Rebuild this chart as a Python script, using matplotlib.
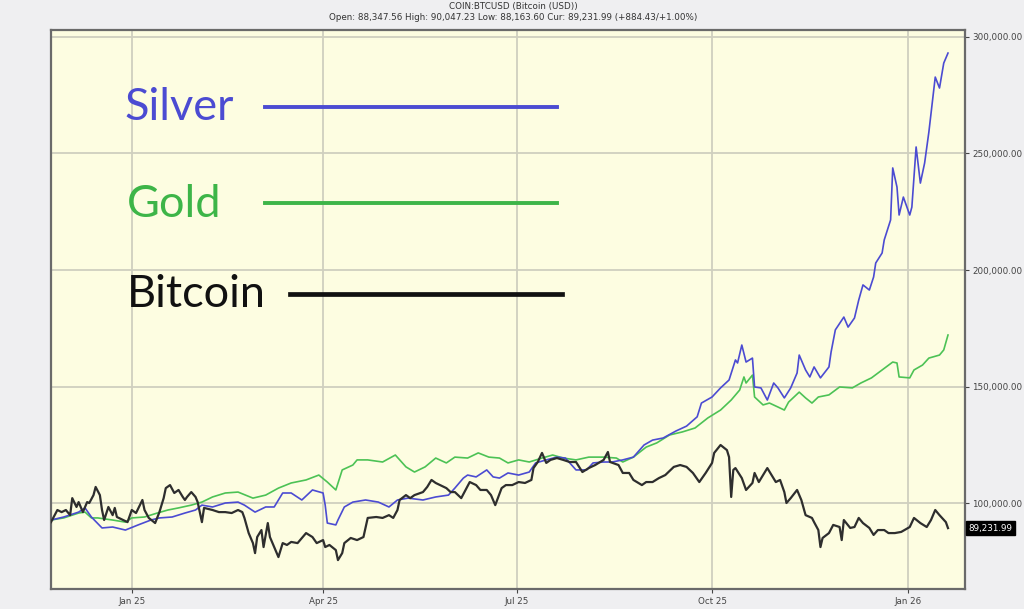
import matplotlib
matplotlib.use("Agg")
import matplotlib.pyplot as plt
import matplotlib.transforms as mtransforms
from matplotlib.ticker import FuncFormatter
import pandas as pd

# ---------------- data (USD on the BTC scale) ----------------
btc_dates = [
    "2024-11-24", "2024-11-27", "2024-11-29", "2024-12-01", "2024-12-03", "2024-12-04", "2024-12-06",
    "2024-12-07", "2024-12-09", "2024-12-11", "2024-12-12", "2024-12-14", "2024-12-15", "2024-12-17",
    "2024-12-18", "2024-12-19", "2024-12-21", "2024-12-23", "2024-12-24", "2024-12-25", "2024-12-28",
    "2024-12-30", "2025-01-01", "2025-01-03", "2025-01-06", "2025-01-07", "2025-01-09", "2025-01-12",
    "2025-01-14", "2025-01-16", "2025-01-17", "2025-01-19", "2025-01-21", "2025-01-23", "2025-01-25",
    "2025-01-26", "2025-01-27", "2025-01-29", "2025-01-31", "2025-02-01", "2025-02-03", "2025-02-04",
    "2025-02-08", "2025-02-11", "2025-02-14", "2025-02-17", "2025-02-20", "2025-02-22", "2025-02-23",
    "2025-02-25", "2025-02-27", "2025-02-28", "2025-03-01", "2025-03-03", "2025-03-04", "2025-03-06",
    "2025-03-07", "2025-03-09", "2025-03-11", "2025-03-13", "2025-03-15", "2025-03-17", "2025-03-20",
    "2025-03-24", "2025-03-27", "2025-03-29", "2025-04-01", "2025-04-02", "2025-04-04", "2025-04-07",
    "2025-04-08", "2025-04-10", "2025-04-11", "2025-04-14", "2025-04-17", "2025-04-20", "2025-04-22",
    "2025-04-26", "2025-04-29", "2025-05-02", "2025-05-04", "2025-05-06", "2025-05-07", "2025-05-10",
    "2025-05-12", "2025-05-14", "2025-05-18", "2025-05-20", "2025-05-22", "2025-05-24", "2025-05-26",
    "2025-05-29", "2025-05-31", "2025-06-02", "2025-06-05", "2025-06-07", "2025-06-09", "2025-06-12",
    "2025-06-14", "2025-06-17", "2025-06-19", "2025-06-21", "2025-06-24", "2025-06-26", "2025-06-29",
    "2025-07-02", "2025-07-05", "2025-07-08", "2025-07-09", "2025-07-11", "2025-07-13", "2025-07-15",
    "2025-07-17", "2025-07-20", "2025-07-23", "2025-07-26", "2025-07-29", "2025-08-01", "2025-08-04",
    "2025-08-07", "2025-08-11", "2025-08-13", "2025-08-14", "2025-08-18", "2025-08-20", "2025-08-23",
    "2025-08-25", "2025-08-29", "2025-08-31", "2025-09-03", "2025-09-06", "2025-09-09", "2025-09-13",
    "2025-09-16", "2025-09-19", "2025-09-22", "2025-09-25", "2025-09-28", "2025-10-01", "2025-10-02",
    "2025-10-05", "2025-10-08", "2025-10-09", "2025-10-10", "2025-10-11", "2025-10-12", "2025-10-15",
    "2025-10-17", "2025-10-20", "2025-10-21", "2025-10-23", "2025-10-27", "2025-10-29", "2025-10-31",
    "2025-11-02", "2025-11-04", "2025-11-05", "2025-11-07", "2025-11-10", "2025-11-12", "2025-11-14",
    "2025-11-17", "2025-11-18", "2025-11-20", "2025-11-21", "2025-11-22", "2025-11-25", "2025-11-27",
    "2025-11-30", "2025-12-01", "2025-12-02", "2025-12-05", "2025-12-07", "2025-12-09", "2025-12-11",
    "2025-12-14", "2025-12-16", "2025-12-18", "2025-12-21", "2025-12-23", "2025-12-26", "2025-12-29",
    "2026-01-02", "2026-01-04", "2026-01-07", "2026-01-10", "2026-01-12", "2026-01-14", "2026-01-16",
    "2026-01-19", "2026-01-20",
]
btc_values = [
    91800, 97000, 96100, 97000, 94800, 102100, 98300,
    100400, 96100, 100400, 100000, 103400, 106900, 103400,
    97000, 92700, 98300, 94800, 97900, 94000, 92700,
    91800, 97000, 95700, 101300, 97000, 93600, 91400,
    96100, 102100, 106400, 107700, 104300, 105600, 102600,
    101300, 102600, 104700, 102600, 100400, 91800, 97900,
    97000, 96100, 96100, 95700, 97000, 96100, 93600,
    87100, 82800, 78500, 85400, 88400, 81100, 91400,
    85400, 81100, 76800, 82800, 82000, 83300, 82800,
    87100, 85400, 82800, 84100, 81100, 82000, 79800,
    75500, 78500, 82800, 85000, 84100, 85400, 93600,
    94000, 93600, 94800, 93600, 97000, 101300, 103400,
    102100, 103400, 104700, 106900, 109900, 108600, 107700,
    106400, 104700, 104700, 102100, 105600, 109000, 107700,
    105600, 105600, 103400, 99100, 106400, 107700, 107700,
    109000, 108600, 109900, 115000, 117600, 121500, 117200,
    118500, 119300, 118500, 117600, 117600, 113300, 115000,
    116300, 118500, 121900, 117600, 116300, 112900, 112900,
    109900, 107700, 109000, 109000, 110700, 112000, 115500,
    116300, 115500, 112900, 109000, 112900, 117200, 121500,
    124900, 122700, 119700, 102600, 114200, 115000, 110700,
    105600, 108600, 112900, 109000, 115000, 112000, 109000,
    109900, 104700, 100000, 102100, 105600, 101300, 94800,
    93600, 91800, 88400, 81100, 85000, 87100, 90600,
    89700, 84100, 92700, 89300, 89700, 93600, 91400,
    89300, 86300, 88400, 88400, 87100, 87100, 87600,
    89700, 93600, 91400, 89700, 92700, 97000, 94800,
    91800, 89232,
]

silver_dates = [
    "2024-11-24", "2024-11-30", "2024-12-07", "2024-12-10", "2024-12-13", "2024-12-18", "2024-12-23",
    "2024-12-29", "2025-01-04", "2025-01-10", "2025-01-14", "2025-01-20", "2025-01-26", "2025-01-31",
    "2025-02-03", "2025-02-08", "2025-02-14", "2025-02-20", "2025-02-23", "2025-02-28", "2025-03-05",
    "2025-03-09", "2025-03-13", "2025-03-17", "2025-03-22", "2025-03-27", "2025-04-01", "2025-04-02",
    "2025-04-03", "2025-04-07", "2025-04-08", "2025-04-11", "2025-04-15", "2025-04-21", "2025-04-27",
    "2025-05-02", "2025-05-06", "2025-05-11", "2025-05-18", "2025-05-24", "2025-05-30", "2025-06-02",
    "2025-06-06", "2025-06-08", "2025-06-12", "2025-06-17", "2025-06-20", "2025-06-23", "2025-06-27",
    "2025-07-02", "2025-07-07", "2025-07-10", "2025-07-15", "2025-07-20", "2025-07-24", "2025-07-29",
    "2025-08-03", "2025-08-06", "2025-08-11", "2025-08-15", "2025-08-20", "2025-08-25", "2025-08-30",
    "2025-09-03", "2025-09-08", "2025-09-14", "2025-09-19", "2025-09-24", "2025-09-26", "2025-10-01",
    "2025-10-05", "2025-10-09", "2025-10-12", "2025-10-13", "2025-10-15", "2025-10-17", "2025-10-20",
    "2025-10-21", "2025-10-24", "2025-10-27", "2025-10-30", "2025-11-01", "2025-11-04", "2025-11-07",
    "2025-11-10", "2025-11-11", "2025-11-14", "2025-11-16", "2025-11-18", "2025-11-21", "2025-11-25",
    "2025-11-26", "2025-11-28", "2025-12-02", "2025-12-04", "2025-12-07", "2025-12-09", "2025-12-11",
    "2025-12-14", "2025-12-16", "2025-12-17", "2025-12-20", "2025-12-21", "2025-12-24", "2025-12-25",
    "2025-12-27", "2025-12-28", "2025-12-30", "2026-01-02", "2026-01-03", "2026-01-05", "2026-01-07",
    "2026-01-09", "2026-01-11", "2026-01-14", "2026-01-16", "2026-01-18", "2026-01-20",
]
silver_values = [
    92700, 94000, 96100, 97900, 94000, 89300, 89700,
    88400, 90600, 92700, 93600, 94000, 95700, 97000,
    99100, 98300, 100000, 100400, 99100, 96100, 98300,
    98300, 104300, 104300, 101300, 105600, 104300, 99100,
    91400, 90600, 92700, 98300, 100400, 101300, 100400,
    98300, 101300, 102100, 101300, 102600, 103400, 106400,
    110700, 112000, 111200, 114200, 111200, 110700, 112900,
    112000, 113300, 117200, 118500, 119700, 119300, 114200,
    114200, 117200, 117600, 117600, 118500, 119700, 124900,
    127000, 127900, 130900, 133000, 137000, 142900, 145500,
    149400, 152800, 161400, 160100, 167800, 160500, 162200,
    149800, 149400, 144200, 151500, 149400, 145100, 149400,
    155800, 163500, 157100, 154100, 158400, 153700, 158400,
    164800, 174300, 179800, 175500, 179400, 187100, 193600,
    191400, 197000, 203000, 207300, 212900, 221500, 243800,
    235600, 223600, 231300, 223600, 227000, 252800, 237300,
    245900, 259200, 282800, 278100, 288800, 293100,
]

gold_dates = [
    "2024-11-24", "2024-11-30", "2024-12-07", "2024-12-10", "2024-12-13", "2024-12-16", "2024-12-23",
    "2024-12-29", "2025-01-01", "2025-01-07", "2025-01-13", "2025-01-18", "2025-01-23", "2025-01-29",
    "2025-02-03", "2025-02-08", "2025-02-14", "2025-02-20", "2025-02-27", "2025-03-05", "2025-03-11",
    "2025-03-17", "2025-03-24", "2025-03-30", "2025-04-03", "2025-04-07", "2025-04-10", "2025-04-15",
    "2025-04-17", "2025-04-22", "2025-04-29", "2025-05-05", "2025-05-10", "2025-05-14", "2025-05-19",
    "2025-05-24", "2025-05-29", "2025-06-02", "2025-06-08", "2025-06-13", "2025-06-18", "2025-06-23",
    "2025-06-27", "2025-07-02", "2025-07-07", "2025-07-13", "2025-07-18", "2025-07-23", "2025-07-29",
    "2025-08-04", "2025-08-11", "2025-08-17", "2025-08-20", "2025-08-25", "2025-08-31", "2025-09-05",
    "2025-09-11", "2025-09-17", "2025-09-23", "2025-09-29", "2025-10-05", "2025-10-10", "2025-10-14",
    "2025-10-16", "2025-10-17", "2025-10-20", "2025-10-21", "2025-10-25", "2025-10-28", "2025-11-01",
    "2025-11-04", "2025-11-06", "2025-11-11", "2025-11-14", "2025-11-17", "2025-11-20", "2025-11-25",
    "2025-11-30", "2025-12-06", "2025-12-10", "2025-12-15", "2025-12-20", "2025-12-25", "2025-12-27",
    "2025-12-28", "2026-01-02", "2026-01-04", "2026-01-08", "2026-01-11", "2026-01-16", "2026-01-18",
    "2026-01-20",
]
gold_values = [
    92700, 93600, 95700, 96100, 93600, 93600, 92700,
    91800, 93600, 94000, 95700, 97000, 97900, 99100,
    100400, 102600, 104300, 104700, 102100, 103400, 106400,
    108600, 109900, 112000, 109000, 105600, 114200, 116300,
    118500, 118500, 117600, 120600, 115500, 113300, 115500,
    119300, 117200, 119700, 119300, 121500, 119700, 119300,
    117200, 118500, 117600, 119300, 120600, 119300, 118500,
    119700, 119700, 119300, 117600, 119700, 124000, 125800,
    129200, 130500, 132200, 136500, 139900, 144200, 148500,
    154100, 151500, 154900, 145500, 142100, 142900, 141200,
    139900, 143300, 147600, 145100, 142900, 145500, 146400,
    149800, 149400, 151500, 153700, 157100, 160500, 160100,
    154100, 153700, 157100, 159200, 162200, 163500, 165700,
    172100,
]

y_ticks = [100000, 150000, 200000, 250000, 300000]
x_tick_dates = ["2025-01-01", "2025-04-01", "2025-07-01", "2025-10-01", "2026-01-01"]
x_tick_labels = ["Jan 25", "Apr 25", "Jul 25", "Oct 25", "Jan 26"]
legend_names = ["Silver", "Gold", "Bitcoin"]
title_line1 = "COIN:BTCUSD (Bitcoin (USD))"
title_line2 = "Open: 88,347.56 High: 90,047.23 Low: 88,163.60 Cur: 89,231.99 (+884.43/+1.00%)"
current_price = 89231.99

# ---------------- figure ----------------
W, H = 1024, 609
fig = plt.figure(figsize=(W / 100, H / 100), dpi=100, facecolor="#efeff1")
ax = fig.add_axes([51 / W, 1 - 589 / H, (965 - 51) / W, (589 - 30) / H])
ax.set_facecolor("#fdfde1")

c_silver = "#4b4bd2"
c_gold = "#4cc255"
c_btc = "#2e2e2e"

ax.plot(pd.to_datetime(gold_dates), gold_values, color=c_gold, lw=1.2, zorder=3)
ax.plot(pd.to_datetime(silver_dates), silver_values, color=c_silver, lw=1.2, zorder=4)
ax.plot(pd.to_datetime(btc_dates), btc_values, color=c_btc, lw=1.6, zorder=5)

ax.set_xlim(pd.Timestamp("2024-11-24"), pd.Timestamp("2026-01-28"))
ax.set_ylim(63100, 303000)

ax.set_xticks(pd.to_datetime(x_tick_dates))
ax.set_xticklabels(x_tick_labels)
ax.set_yticks(y_ticks)
ax.yaxis.set_major_formatter(FuncFormatter(lambda v, p: f"{v:,.2f}"))
ax.yaxis.tick_right()
ax.tick_params(axis="both", labelsize=6.3, colors="#444444", length=3, width=0.8)
ax.tick_params(axis="x", pad=3)
ax.tick_params(axis="y", pad=2)

ax.grid(True, color="#cfcfbf", lw=1.3, zorder=1)
ax.set_axisbelow(True)
for s in ax.spines.values():
    s.set_color("#6a6a6a")
    s.set_linewidth(1.6)

# current price tag
trans = mtransforms.blended_transform_factory(ax.transAxes, ax.transData)
ax.text(1.004, current_price, f"{current_price:,.2f}", transform=trans, ha="left", va="center",
        fontsize=6.3, color="white",
        bbox=dict(boxstyle="square,pad=0.25", fc="black", ec="black"), clip_on=False, zorder=10)

# titles
fig.text(513 / W, 1 - 6 / H, title_line1, ha="center", va="center", fontsize=6.3, color="#333333")
fig.text(513 / W, 1 - 18 / H, title_line2, ha="center", va="center", fontsize=6.3, color="#333333")

# hand-written style legend
legend_specs = [
    (legend_names[0], c_silver, 124, 107, 265, 557, 107, 2.8),
    (legend_names[1], "#3db548", 127, 205, 265, 557, 203, 2.8),
    (legend_names[2], "#111111", 127, 294, 290, 562, 294, 3.4),
]
for name, col, tx, ty, lx0, lx1, ly, lw in legend_specs:
    fig.text(tx / W, 1 - ty / H, name, ha="left", va="center", fontsize=32.5,
             family="Lato", color=col)
    fig.add_artist(plt.Line2D([lx0 / W, lx1 / W], [1 - ly / H, 1 - ly / H],
                              transform=fig.transFigure, color=col, lw=lw))

fig.savefig("out.png", dpi=100, facecolor=fig.get_facecolor())
